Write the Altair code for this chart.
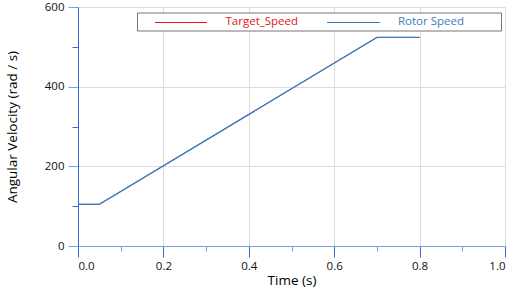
import altair as alt
import pandas as pd

# ---- data ----
time_s = [0.0, 0.05, 0.7, 0.8]
target_speed = [104.7, 104.7, 523.6, 523.6]
rotor_speed = [104.7, 104.7, 523.6, 523.6]
series_names = ["Target_Speed", "Rotor Speed"]
series_colors = ["#e8141c", "#3a7cc0"]
x_major = [0.0, 0.2, 0.4, 0.6, 0.8, 1.0]
x_minor = [0.1, 0.3, 0.5, 0.7, 0.9]
y_major = [0, 200, 400, 600]
y_minor = [100, 300, 500]

FONT = "Open Sans"
AX_DARK = "#3468d6"
AX_LIGHT = "#78a0e8"
GRID = "#dcdcdc"

df_t = pd.DataFrame({"t": time_s, "v": target_speed})
df_r = pd.DataFrame({"t": time_s, "v": rotor_speed})

xs = alt.Scale(domain=[0, 1], nice=False, zero=False)
ys = alt.Scale(domain=[0, 600], nice=False)

main_x = alt.Axis(values=x_major, format=".1f", tickSize=11, tickColor=AX_DARK,
                  domainColor=AX_LIGHT, gridColor=GRID, grid=True,
                  labelPadding=3, labelFont=FONT, labelFontSize=11.5, labelColor="#111",
                  title="Time (s)", titleFont=FONT, titleFontSize=13.5,
                  titleFontWeight="normal", titleColor="#000",
                  titleY=34, titleBaseline="middle")
main_y = alt.Axis(values=y_major, tickSize=10, tickColor=AX_LIGHT,
                  domainColor=AX_DARK, gridColor=GRID, grid=True,
                  labelPadding=4, labelFont=FONT, labelFontSize=11.5, labelColor="#111",
                  title="Angular Velocity (rad / s)", titleFont=FONT, titleFontSize=13.5,
                  titleFontWeight="normal", titleColor="#000",
                  titleX=-66, titleBaseline="middle")
minor_x = alt.Axis(values=x_minor, tickSize=5, tickColor=AX_LIGHT, labels=False,
                   domain=False, grid=False, title=None, orient="bottom")
minor_y = alt.Axis(values=y_minor, tickSize=6, tickColor=AX_DARK, labels=False,
                   domain=False, grid=False, title=None, orient="left")

target = alt.Chart(df_t).mark_line(color=series_colors[0], strokeWidth=0.8).encode(
    x=alt.X("t:Q", scale=xs, axis=main_x),
    y=alt.Y("v:Q", scale=ys, axis=main_y),
)
rotor = alt.Chart(df_r).mark_line(color=series_colors[1], strokeWidth=1.3).encode(
    x=alt.X("t:Q", scale=xs, axis=minor_x),
    y=alt.Y("v:Q", scale=ys, axis=minor_y),
)

one = pd.DataFrame({"k": [0]})
box = alt.Chart(one).mark_rect(fill="white", stroke="#777777", strokeWidth=1).encode(
    x=alt.value(59.5), x2=alt.value(423.5), y=alt.value(6), y2=alt.value(24))
leg_line1 = alt.Chart(one).mark_rule(color=series_colors[0], strokeWidth=1.2).encode(
    x=alt.value(77), x2=alt.value(129), y=alt.value(15.5))
leg_text1 = alt.Chart(one).mark_text(text=series_names[0], color=series_colors[0], font=FONT,
                                     fontSize=11.5, align="left", baseline="middle").encode(
    x=alt.value(147.5), y=alt.value(15))
leg_line2 = alt.Chart(one).mark_rule(color=series_colors[1], strokeWidth=1.2).encode(
    x=alt.value(249), x2=alt.value(302), y=alt.value(15.5))
leg_text2 = alt.Chart(one).mark_text(text=series_names[1], color=series_colors[1], font=FONT,
                                     fontSize=11.5, align="left", baseline="middle").encode(
    x=alt.value(320), y=alt.value(15))

chart = alt.layer(target, rotor, box, leg_line1, leg_text1, leg_line2, leg_text2).resolve_axis(
    x="independent", y="independent"
).properties(
    width=427, height=239,
    autosize=alt.AutoSizeParams(type="none"),
    padding={"left": 78, "top": 7, "right": 17, "bottom": 44},
).configure_view(strokeWidth=0).configure(background="white")

chart.save("out.html", embed_options={"renderer": "svg", "actions": False})
